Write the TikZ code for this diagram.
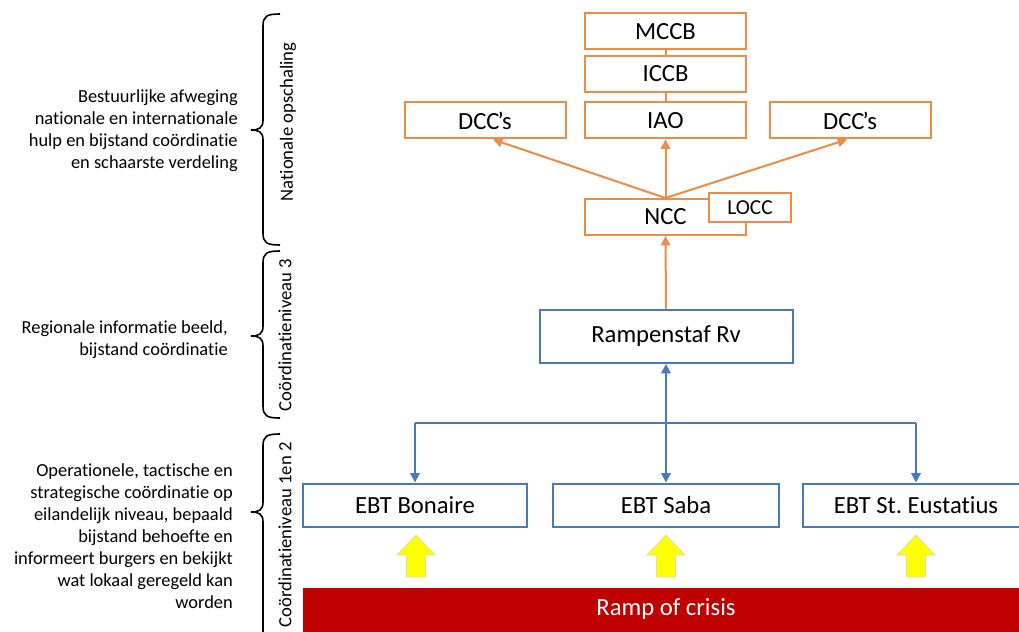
\documentclass[tikz,border=0pt]{standalone}
\usepackage{fontspec}
\setmainfont[RawFeature={-liga;-dlig}]{Carlito}
\usetikzlibrary{arrows.meta,calc}
\definecolor{org}{RGB}{237,140,70}
\definecolor{blu}{RGB}{72,120,190}
\definecolor{rd}{RGB}{192,0,0}
\definecolor{yl}{RGB}{255,255,0}
\definecolor{yedge}{RGB}{222,222,170}
\frenchspacing
\newcommand\yarr[1]{\filldraw[yarrow] (#1,535) -- (#1+19,555) -- (#1+9.5,555) -- (#1+9.5,577) -- (#1-9.5,577) -- (#1-9.5,555) -- (#1-19,555) -- cycle;}
\newcommand\mybrace[4]{\draw[brc] (#1+17,#2) .. controls (#1+4,#2) and (#1,#2+2) .. (#1,#2+12) -- (#1,#3-10) .. controls (#1,#3-2) and (#1-4,#3) .. (#1-12,#3) .. controls (#1-4,#3) and (#1,#3+2) .. (#1,#3+10) -- (#1,#4-12) .. controls (#1,#4-2) and (#1+4,#4) .. (#1+17,#4);}
\begin{document}
\begin{tikzpicture}[x=0.75pt,y=-0.75pt,
 obox/.style={draw=org,line width=1.5pt,fill=white,inner sep=0pt,minimum width=120.75pt,minimum height=27pt,font=\fontsize{18.5}{20}\selectfont},
 bbox/.style={draw=blu,line width=1.5pt,fill=white,inner sep=0pt,minimum height=32.25pt,font=\fontsize{18.5}{20}\selectfont},
 oline/.style={draw=org,line width=1.5pt},
 oarr/.style={oline,-{Triangle[length=7pt,width=7pt]}},
 bline/.style={draw=blu,line width=1.5pt},
 barr/.style={bline,-{Triangle[length=7pt,width=7pt]}},
 brc/.style={draw=black,line width=1.2pt},
 lefttext/.style={align=right,font=\fontsize{13.8}{16.5}\selectfont,anchor=east,inner sep=0pt},
 rottext/.style={rotate=90,font=\fontsize{14}{16}\selectfont,inner sep=0pt},
 yarrow/.style={fill=yl,draw=yedge,line width=0.6pt}
]
\useasboundingbox (0,0) rectangle (1019,631);
\clip (0,0) rectangle (1019,631);
\fill[white] (0,0) rectangle (1019,631);

% left descriptions
\node[lefttext] (t1) at (238,131) {Bestuurlijke afweging\\nationale en internationale\\hulp en bijstand coördinatie\\en schaarste verdeling};
\node[lefttext] (t2) at (228,340) {Regionale informatie beeld,\\bijstand coördinatie};
\node[lefttext] (t3) at (233,536) {Operationele, tactische en\\strategische coördinatie op\\eilandelijk niveau, bepaald\\bijstand behoefte en\\informeert burgers en bekijkt\\wat lokaal geregeld kan\\worden};

% braces
\mybrace{263}{14}{130}{245}
\mybrace{263}{251}{336}{418}
\mybrace{263}{434}{512}{660}

\node[rottext] (r1) at (288,122) {Nationale opschaling};
\node[rottext] (r2) at (285,335) {Coördinatieniveau 3};
\node[rottext] (r3) at (285,535) {Coördinatieniveau 1en 2};

% orange boxes
\node[obox] (mccb) at (665.5,31.5) {MCCB};
\node[obox] (iccb) at (665.5,74) {ICCB};
\node[obox] (iao) at (665.5,120.5) {IAO};
\node[obox] (dccl) at (485,120.5) {DCC\kern-1.5pt’s};
\node[obox] (dccr) at (850,120.5) {DCC\kern-1.5pt’s};
\node[obox] (ncc) at (665.5,217) {NCC};
\node[obox,minimum width=61.5pt,minimum height=21.75pt,font=\fontsize{16}{18}\selectfont] (locc) at (750,207.5) {LOCC};

% blue boxes
\node[bbox,minimum width=189.75pt,minimum height=39.75pt] (rv) at (666,336.5) {Rampenstaf Rv};
\node[bbox,minimum width=168pt] (bon) at (415,505) {EBT Bonaire};
\node[bbox,minimum width=169.5pt] (saba) at (666,505) {EBT Saba};
\node[bbox,minimum width=169.5pt] (eust) at (916,505) {EBT St. Eustatius};

% red bar
\fill[rd] (303,588) rectangle (1030,640);
\node[text=white,font=\fontsize{18.5}{20}\selectfont] (crisis) at (666,609) {Ramp of crisis};

% yellow arrows
\yarr{416}
\yarr{666}
\yarr{916}

% orange connectors
\draw[oline] (mccb.south) -- (iccb.north);
\draw[oline] (iccb.south) -- (iao.north);
\draw[oarr] (ncc.north) -- (iao.south);
\draw[oarr] (ncc.north) -- ($(dccl.south)+(8,0)$);
\draw[oarr] (ncc.north) -- ($(dccr.south)+(-3,0)$);
\draw[oarr] (rv.north) -- (ncc.south);

% blue connectors
\coordinate (hl) at (666,423);
\draw[bline,{Triangle[length=7pt,width=7pt]}-{Triangle[length=7pt,width=7pt]}] (rv.south) -- (saba.north);
\draw[bline] (bon.north |- hl) -- (eust.north |- hl);
\draw[barr] (bon.north |- hl) -- (bon.north);
\draw[barr] (eust.north |- hl) -- (eust.north);
\end{tikzpicture}
\end{document}
